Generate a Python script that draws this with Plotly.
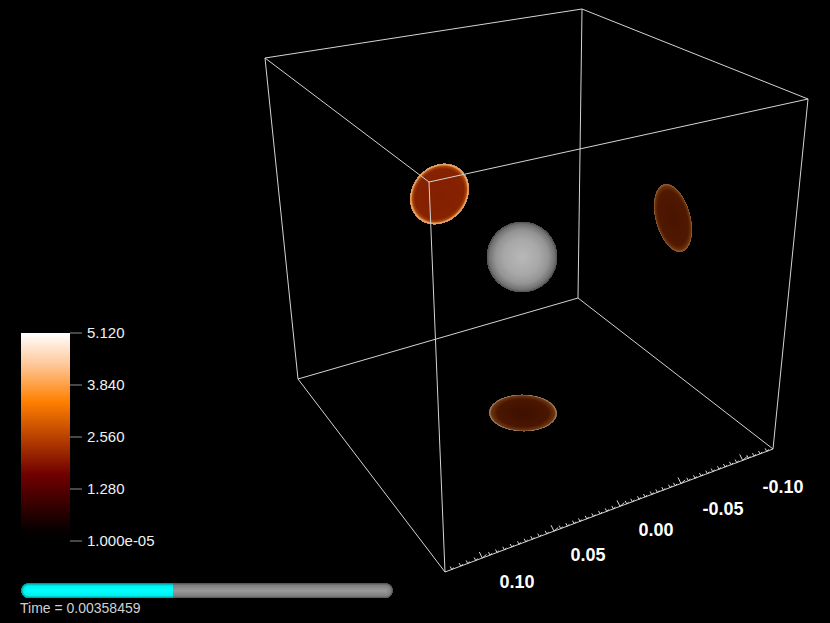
import numpy as np
import plotly.graph_objects as go

W, H = 830, 623

# box corners in picture pixels
corner_x = dict(A=445, B=773, C=298, D=578, E=429, F=808, G=265, H=582)
corner_y = dict(A=572, B=449, C=379, D=298, E=182, F=99, G=58, H=9)
box_edges = ["GH", "HF", "FE", "EG", "AB", "BD", "DC", "CA", "AE", "BF", "CG", "DH"]

# axis ticks along the A-B edge
major_tick_x = [482.3, 554, 620, 681, 742.7]
minor_tick_x = [451.7, 460.7, 467.7, 475.7, 490, 497, 504.3, 511.7, 519, 525.7, 532.3,
                539.3, 546.7, 560.7, 567.3, 574, 580, 586.7, 593.3, 600, 606.7, 613.3,
                626.7, 632.3, 639, 645, 651.7, 657.3, 663.3, 670, 675, 688.3, 695, 701,
                707.3, 712.7, 719, 725, 731, 736.7, 748.3, 754, 760, 766.7]
axis_labels = ["0.10", "0.05", "0.00", "-0.05", "-0.10"]
axis_label_x = [517, 588, 656, 723, 783]
axis_label_y = [583, 556, 531, 510, 488]

# discs: cx, cy, semi major, semi minor, angle of major axis (deg, from +x, clockwise on screen)
disc_left = (439.5, 194, 32.5, 27.5, -50)
disc_right = (673, 218, 35, 17.5, 75)
disc_bottom = (523, 413, 34, 18.5, 1)
scale_left = [[0, "#822000"], [0.82, "#862200"], [0.91, "#aa4606"], [0.96, "#e8a870"], [1, "#d88848"]]
scale_right = [[0, "#481400"], [0.8, "#501800"], [0.93, "#6c3008"], [0.98, "#905c30"], [1, "#704828"]]
scale_bottom = [[0, "#3e1000"], [0.75, "#4a1600"], [0.93, "#6c3410"], [0.98, "#a08060"], [1, "#705840"]]

# grey sphere
sphere = (522, 257, 35.5)
sphere_scale = [[0, "#b8b8b8"], [0.5, "#a8a8a8"], [0.75, "#949494"], [0.92, "#727272"], [1, "#4c4c4c"]]

# colour bar
bar_ticks = [5.12, 3.84, 2.56, 1.28, 0]
bar_labels = ["5.120", "3.840", "2.560", "1.280", "1.000e-05"]
bar_tick_y = [333, 385, 437, 489, 541]
bar_scale = [[0, "#000000"], [0.05, "#060000"], [0.32, "#700000"], [0.67, "#ff8000"],
             [0.85, "#ffc89a"], [1, "#ffffff"]]

# time slider
slider_x0, slider_split, slider_x1 = 21, 173, 393
slider_y, slider_h = 590.7, 7.5
cyan_scale = [[0, "#00ffff"], [0.65, "#00f0f0"], [1, "#008c8c"]]
grey_scale = [[0, "#9a9a9a"], [0.7, "#808080"], [1, "#505050"]]
time_label = "Time = 0.00358459"


def patch(x0, x1, y0, y1, z_func, scale):
    xs = np.arange(x0, x1) + 0.5
    ys = np.arange(y0, y1) + 0.5
    xx, yy = np.meshgrid(xs, ys)
    z = z_func(xx, yy)
    z[z > 1] = np.nan
    return go.Heatmap(x=xs, y=ys, z=z, zmin=0, zmax=1, colorscale=scale,
                      showscale=False, hoverinfo="skip")


def disc_trace(disc, scale):
    cx, cy, a, b, angle = disc
    t = np.radians(angle)

    def radius(xx, yy):
        u = (xx - cx) * np.cos(t) + (yy - cy) * np.sin(t)
        v = -(xx - cx) * np.sin(t) + (yy - cy) * np.cos(t)
        return np.hypot(u / a, v / b)

    m = int(a) + 3
    return patch(int(cx) - m, int(cx) + m, int(cy) - m, int(cy) + m, radius, scale)


def slider_radius(xx, yy):
    left = slider_x0 + slider_h
    right = slider_x1 - slider_h
    dx = np.where(xx < left, left - xx, np.where(xx > right, xx - right, 0))
    return np.hypot(dx, yy - slider_y) / slider_h


fig = go.Figure()

# volume blobs
fig.add_trace(disc_trace(disc_left, scale_left))
fig.add_trace(disc_trace(disc_right, scale_right))
fig.add_trace(disc_trace(disc_bottom, scale_bottom))
sx, sy, sr = sphere
fig.add_trace(patch(sx - 38, sx + 38, sy - 38, sy + 38,
                    lambda xx, yy: np.hypot(xx - sx, yy - sy) / sr, sphere_scale))

# colour bar
fig.add_trace(patch(21, 70, 333, 541, lambda xx, yy: (541 - yy) / 208, bar_scale))

# slider
fig.add_trace(patch(slider_x0, slider_split, 582, 600, slider_radius, cyan_scale))
fig.add_trace(patch(slider_split, slider_x1, 582, 600, slider_radius, grey_scale))

# box
line_x, line_y = [], []
for e in box_edges:
    line_x += [corner_x[e[0]], corner_x[e[1]], None]
    line_y += [corner_y[e[0]], corner_y[e[1]], None]
fig.add_trace(go.Scatter(x=line_x, y=line_y, mode="lines", hoverinfo="skip",
                         line=dict(color="#d4d4d4", width=1)))

# axis ticks
edge_xs = [corner_x["A"], corner_x["B"]]
edge_ys = [corner_y["A"], corner_y["B"]]
tick_x, tick_y = [], []
for xs, size in ((minor_tick_x, 3), (major_tick_x, 6)):
    for x in xs:
        y = float(np.interp(x, edge_xs, edge_ys))
        tick_x += [x - size * 0.5, x, x + size * 0.7, None]
        tick_y += [y - size, y, y - size * 0.6, None]
fig.add_trace(go.Scatter(x=tick_x, y=tick_y, mode="lines", hoverinfo="skip",
                         line=dict(color="#d8d8d8", width=1)))
fig.add_trace(go.Scatter(x=axis_label_x, y=axis_label_y, mode="text", text=axis_labels,
                         textposition="middle center", hoverinfo="skip",
                         textfont=dict(family="Liberation Sans", size=18, color="#ffffff",
                                       weight="bold")))

# colour bar ticks and labels
bt_x, bt_y = [], []
for y in bar_tick_y:
    bt_x += [70, 82, None]
    bt_y += [y, y, None]
fig.add_trace(go.Scatter(x=bt_x, y=bt_y, mode="lines", hoverinfo="skip",
                         line=dict(color="#909090", width=1)))
fig.add_trace(go.Scatter(x=[87] * 5, y=[y + 1 for y in bar_tick_y], mode="text", text=bar_labels,
                         textposition="middle right", hoverinfo="skip",
                         textfont=dict(family="Liberation Sans", size=15, color="#f0f0f0")))

fig.add_trace(go.Scatter(x=[20], y=[609], mode="text", text=[time_label],
                         textposition="middle right", hoverinfo="skip",
                         textfont=dict(family="Liberation Sans", size=14, color="#d0d0d0")))

fig.update_layout(
    width=W, height=H,
    margin=dict(l=0, r=0, t=0, b=0),
    paper_bgcolor="#000000",
    plot_bgcolor="#000000",
    showlegend=False,
    xaxis=dict(range=[0, W], visible=False, fixedrange=True),
    yaxis=dict(range=[H, 0], visible=False, fixedrange=True),
)

# the page's default body margin would shift the picture by 8px
page_fix = "document.body.style.margin='0';document.body.style.background='#000';document.body.style.overflow='hidden';"
fig.write_html("out.html", config=dict(displayModeBar=False), post_script=page_fix)
